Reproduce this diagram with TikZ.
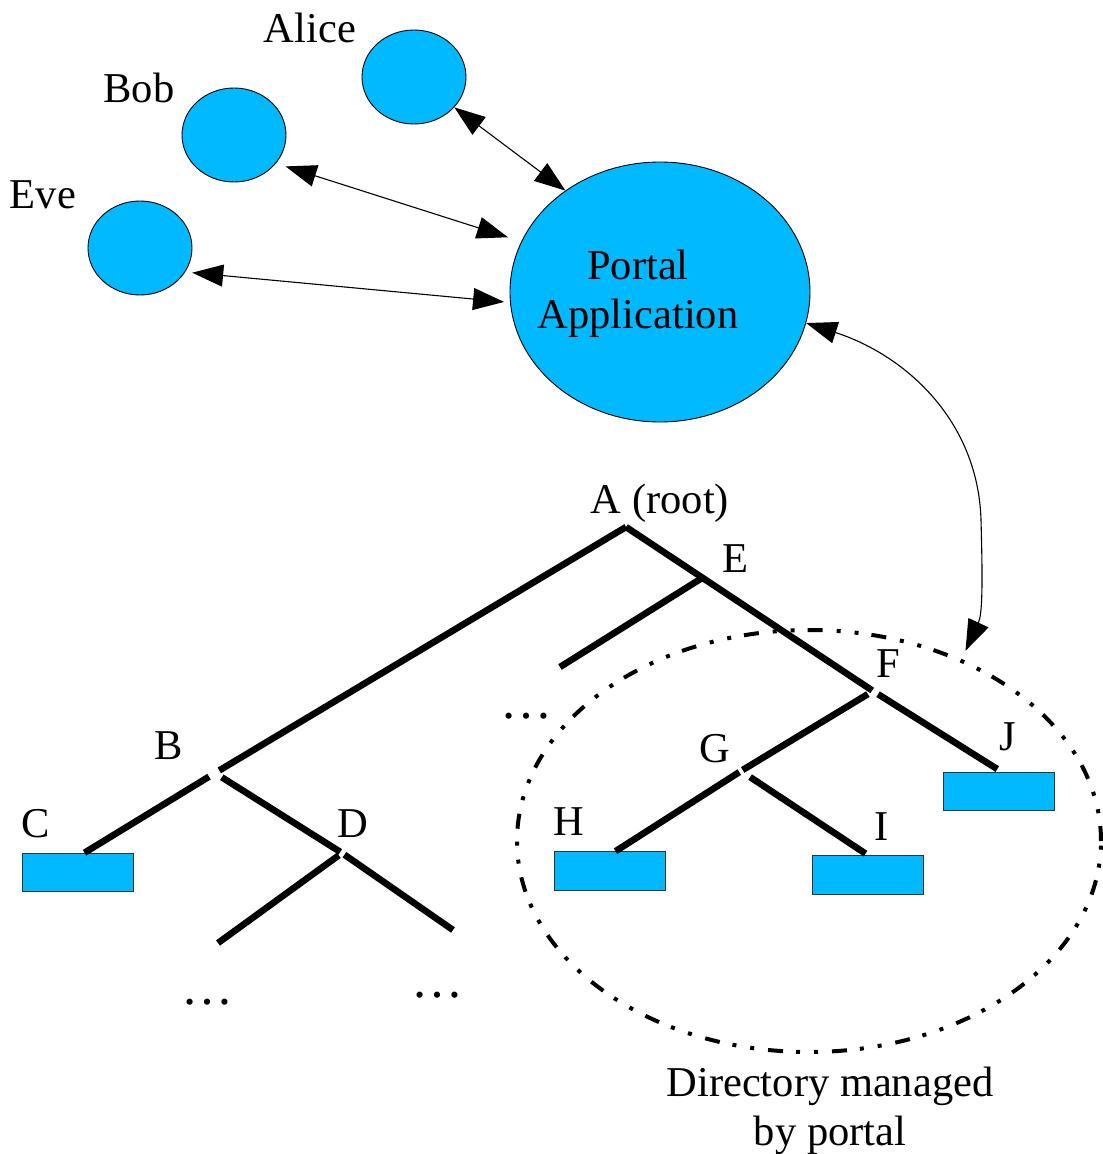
\documentclass[tikz,border=0pt]{standalone}
\usepackage{fontspec}
\setmainfont{Liberation Serif}
\usepackage{xcolor}
\usetikzlibrary{arrows.meta,shapes.geometric}
\definecolor{portalblue}{RGB}{0,185,255}
\begin{document}
\begin{tikzpicture}[x=1pt, y=-1pt,
    user/.style={draw, ellipse, fill=portalblue, line width=0.9pt, inner sep=0pt, minimum width=104pt, minimum height=94pt},
    app/.style={draw, ellipse, fill=portalblue, line width=0.9pt, inner sep=0pt, minimum width=300pt, minimum height=260pt},
    leaf/.style={draw=black!80, fill=portalblue, line width=1pt, inner sep=0pt, minimum width=111pt, minimum height=38.5pt},
    area/.style={draw, ellipse, line width=4pt, inner sep=0pt, minimum width=584pt, minimum height=422pt, dash pattern=on 15pt off 13pt on 4pt off 14pt on 4pt off 14pt},
    tag/.style={font=\fontsize{42.5}{48.5}\selectfont, inner sep=0pt, anchor=base},
    more/.style={font=\fontsize{52}{52}\selectfont, inner sep=0pt, anchor=base},
    branch/.style={black, line width=6.6pt},
    link/.style={{Triangle[length=31pt,width=22pt]}-{Triangle[length=31pt,width=22pt]}, line width=1.1pt}
]
\useasboundingbox (0,0) rectangle (1103,1154);
\node[user] (alice) at (414,77) {};
\node[user] (bob) at (234,135) {};
\node[user] (eve) at (140,248) {};
\node[tag] (lalice) at (310,42) {Alice};
\node[tag] (lbob) at (139,102) {Bob};
\node[tag] (leve) at (43,208) {Eve};
\node[app] (portal) at (660,292) {};
\node[tag, anchor=center, align=center] (portaltext) at (638,294) {Portal\\Application};
\node[area] (dir) at (809,841) {};
\node[tag, anchor=center, align=center] (dirtext) at (830,1111) {Directory managed\\by portal};
\draw[link] (alice.-37.8) -- (portal.133.8);
\draw[link, shorten <=10pt, shorten >=14pt] (bob.-34.2) -- (portal.160.9);
\draw[link, shorten <=7pt, shorten >=6pt] (eve.-28.8) -- (portal.184.4);
\draw[link, shorten >=9pt] (portal.-12.65) .. controls (905,355) and (978,420) .. (981,520) .. controls (983,590) and (982,615) .. (dir.50.3);
\coordinate (ja) at (626,527);
\coordinate (jb) at (215,773);
\coordinate (jd) at (342,853);
\coordinate (je) at (702,578);
\coordinate (jf) at (873,691);
\coordinate (jg) at (741,771);
\coordinate (ee) at (560,667);
\coordinate (dl) at (218,943);
\coordinate (dr) at (453,930);
\node[leaf] (leafc) at (77.5,872.5) {};
\node[leaf] (leafh) at (609.5,871) {};
\node[leaf] (leafi) at (868,875) {};
\node[leaf] (leafj) at (998.5,791.5) {};
\draw[branch, shorten >=5pt] (ja) -- (jb);
\draw[branch, shorten >=1pt] (ja) -- (jf);
\draw[branch] (je) -- (ee);
\draw[branch, shorten <=6pt, shorten >=5pt] (jf) -- ([xshift=3pt]leafj.north);
\draw[branch, shorten <=6pt, shorten >=2pt] (jf) -- (jg);
\draw[branch, shorten <=2pt] (jg) -- ([xshift=6pt]leafh.north);
\draw[branch, shorten <=11pt, shorten >=3pt] (jg) -- (leafi.north);
\draw[branch, shorten <=7pt] (jb) -- ([xshift=7pt]leafc.north);
\draw[branch, shorten <=8pt, shorten >=2pt] (jb) -- (jd);
\draw[branch, shorten <=4pt] (jd) -- (dl);
\draw[branch, shorten <=3pt] (jd) -- (dr);
\node[tag] (la) at (660,513) {A (root)};
\node[tag] (le) at (735,572) {E};
\node[tag] (lb) at (169,759) {B};
\node[tag] (lc) at (36,837) {C};
\node[tag] (ld) at (353,837) {D};
\node[tag] (lf) at (888,677) {F};
\node[tag] (lg) at (715,762) {G};
\node[tag] (lh) at (569,835) {H};
\node[tag] (li) at (882,840) {I};
\node[tag] (lj) at (1008,750) {J};
\node[more] (moree) at (526,718) {…};
\node[more] (moredl) at (207,1004) {…};
\node[more] (moredr) at (437,997) {…};
\end{tikzpicture}
\end{document}
